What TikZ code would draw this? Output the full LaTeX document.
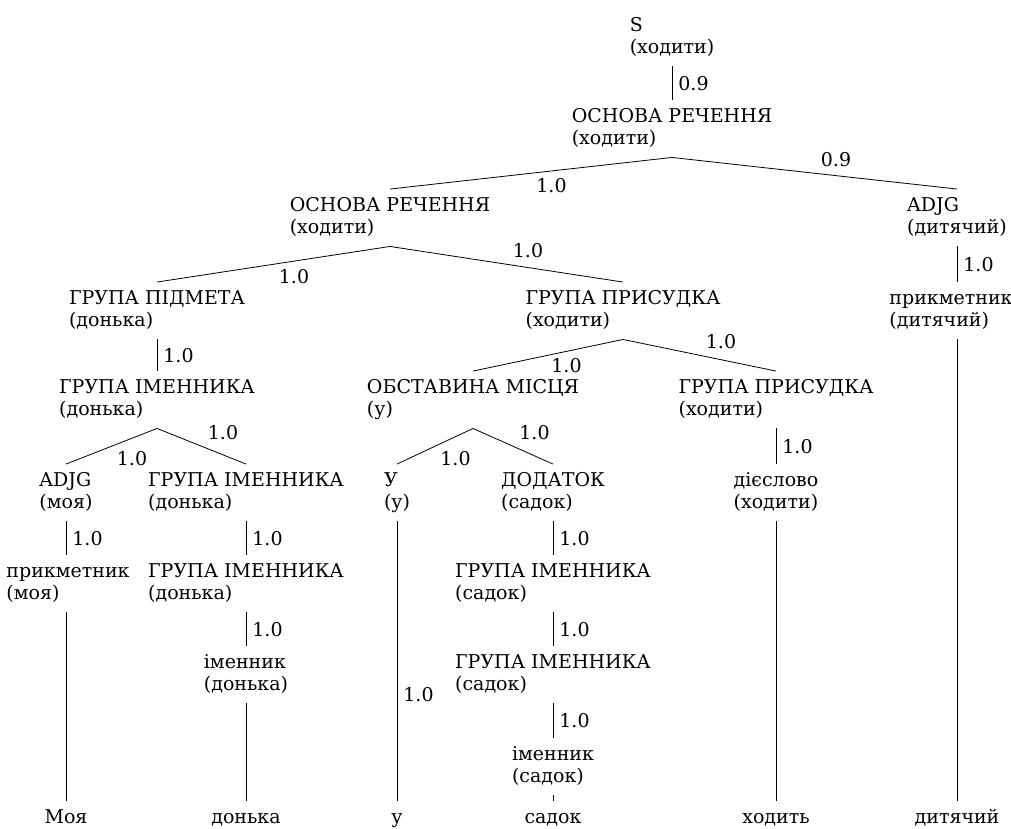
\documentclass[tikz,border=0pt]{standalone}
\usepackage{fontspec}
\setmainfont{DejaVu Serif}
\newcommand\twoline[2]{\begin{tabular}[t]{@{}l@{}}#1\\#2\end{tabular}}
\newcommand\oneline[1]{\strut #1}
\begin{document}
\begin{tikzpicture}[x=1pt,y=-1pt,
  font=\rmfamily\fontsize{19}{22.5}\selectfont,
  tn/.style={anchor=base, inner sep=6pt},
  edge/.style={line width=0.8pt},
  vl/.style={midway, anchor=west, inner sep=6pt},
  nl/.style={midway, anchor=north west, inner sep=5pt},
  nr/.style={midway, anchor=south west, inner sep=6pt}]
\useasboundingbox (0,0) rectangle (1011,828);

% level 0--1
\node[tn] (s)   at (672,31)  {\twoline{S}{(ходити)}};
\node[tn] (o1)  at (672,122) {\twoline{ОСНОВА РЕЧЕННЯ}{(ходити)}};
% level 2
\node[tn] (o2)  at (390,211) {\twoline{ОСНОВА РЕЧЕННЯ}{(ходити)}};
\node[tn] (aj1) at (957,211) {\twoline{ADJG}{(дитячий)}};
% level 3
\node[tn] (gp)  at (157,304) {\twoline{ГРУПА ПІДМЕТА}{(донька)}};
\node[tn] (gs1) at (623,304) {\twoline{ГРУПА ПРИСУДКА}{(ходити)}};
\node[tn] (pk1) at (951,304) {\twoline{прикметник}{(дитячий)}};
% level 4
\node[tn] (gi1) at (157,393) {\twoline{ГРУПА ІМЕННИКА}{(донька)}};
\node[tn] (om)  at (473,393) {\twoline{ОБСТАВИНА МІСЦЯ}{(у)}};
\node[tn] (gs2) at (776,393) {\twoline{ГРУПА ПРИСУДКА}{(ходити)}};
% level 5
\node[tn] (aj2) at (66,486)  {\twoline{ADJG}{(моя)}};
\node[tn] (gi2) at (246,486) {\twoline{ГРУПА ІМЕННИКА}{(донька)}};
\node[tn] (uu)  at (397,486) {\twoline{У}{(у)}};
\node[tn] (dd)  at (553,486) {\twoline{ДОДАТОК}{(садок)}};
\node[tn] (dv)  at (776,486) {\twoline{дієслово}{(ходити)}};
% level 6
\node[tn] (pk2) at (68,577)  {\twoline{прикметник}{(моя)}};
\node[tn] (gi3) at (246,577) {\twoline{ГРУПА ІМЕННИКА}{(донька)}};
\node[tn] (gi4) at (553,577) {\twoline{ГРУПА ІМЕННИКА}{(садок)}};
% level 7--8
\node[tn] (im1) at (246,668) {\twoline{іменник}{(донька)}};
\node[tn] (gi5) at (553,668) {\twoline{ГРУПА ІМЕННИКА}{(садок)}};
\node[tn] (im2) at (553,760) {\twoline{іменник}{(садок)}};
% words
\node[tn] (w1) at (66,823)  {\oneline{Моя}};
\node[tn] (w2) at (246,823) {\oneline{донька}};
\node[tn] (w3) at (397,823) {\oneline{у}};
\node[tn] (w4) at (553,823) {\oneline{садок}};
\node[tn] (w5) at (776,823) {\oneline{ходить}};
\node[tn] (w6) at (957,823) {\oneline{дитячий}};

% branches with probabilities
\draw[edge] (s.south)   -- node[vl] {0.9} (o1.north);
\draw[edge] (o1.south)  -- node[nl] {1.0} (o2.north);
\draw[edge] (o1.south)  -- node[nr] {0.9} (aj1.north);
\draw[edge] (o2.south)  -- node[nl] {1.0} (gp.north);
\draw[edge] (o2.south)  -- node[nr] {1.0} (gs1.north);
\draw[edge] (aj1.south) -- node[vl] {1.0} (aj1.south |- pk1.north);
\draw[edge] (aj1.south |- pk1.south) -- (w6.north);
\draw[edge] (gp.south)  -- node[vl] {1.0} (gi1.north);
\draw[edge] (gs1.south) -- node[nl, inner sep=3pt] {1.0} (om.north);
\draw[edge] (gs1.south) -- node[nr] {1.0} (gs2.north);
\draw[edge] (gi1.south) -- node[nl] {1.0} (aj2.north);
\draw[edge] (gi1.south) -- node[nr] {1.0} (gi2.north);
\draw[edge] (om.south)  -- node[nl] {1.0} (uu.north);
\draw[edge] (om.south)  -- node[nr] {1.0} (dd.north);
\draw[edge] (gs2.south) -- node[vl] {1.0} (dv.north);
\draw[edge] (aj2.south) -- node[vl] {1.0} (aj2.south |- pk2.north);
\draw[edge] (gi2.south) -- node[vl] {1.0} (gi3.north);
\draw[edge] (uu.south)  -- node[vl, pos=0.62] {1.0} (w3.north);
\draw[edge] (dd.south)  -- node[vl] {1.0} (gi4.north);
\draw[edge] (dv.south)  -- (w5.north);
\draw[edge] (aj2.south |- pk2.south) -- (w1.north);
\draw[edge] (gi3.south) -- node[vl] {1.0} (im1.north);
\draw[edge] (gi4.south) -- node[vl] {1.0} (gi5.north);
\draw[edge] (im1.south) -- (w2.north);
\draw[edge] (gi5.south) -- node[vl] {1.0} (im2.north);
\draw[edge] (im2.south) -- (w4.north);
\end{tikzpicture}
\end{document}
